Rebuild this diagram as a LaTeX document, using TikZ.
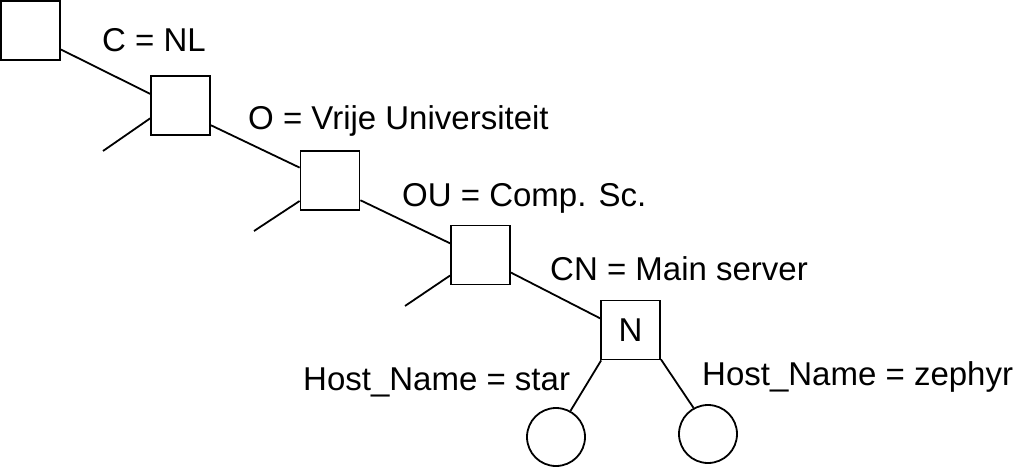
\documentclass[tikz,border=0pt]{standalone}
\usepackage{fontspec}
\setmainfont{Liberation Sans}
\begin{document}
\begin{tikzpicture}[x=1pt,y=-1pt,
  entry/.style={draw,line width=1.8pt,minimum size=59pt,inner sep=0pt,font=\fontsize{33}{40}\selectfont},
  leaf/.style={draw,line width=1.8pt,circle,minimum size=58pt,inner sep=0pt},
  lbl/.style={anchor=base west,inner sep=0pt,font=\fontsize{33}{40}\selectfont},
  conn/.style={line width=1.8pt}]
\useasboundingbox (0,0) rectangle (1014,468);
\node[entry] (b1) at (30.5,30.5) {};
\node[entry] (b2) at (180.5,105.5) {};
\node[entry] (b3) at (330,180.5) {};
\node[entry] (b4) at (480.5,255) {};
\node[entry] (bn) at (630.5,330) {N};
\node[leaf] (c1) at (556,437) {};
\node[leaf] (c2) at (708,434) {};
\coordinate (s2) at (103,151);
\coordinate (s3) at (254,231);
\coordinate (s4) at (405,306);
\draw[conn] (b1.-32) -- (b2.159);
\draw[conn] (b2.203) -- (s2);
\draw[conn] (b2.-33.5) -- (b3.157.4);
\draw[conn] (b3.214) -- (s3);
\draw[conn] (b3.-33) -- (b4.159.5);
\draw[conn] (b4.214) -- (s4);
\draw[conn] (b4.-30) -- (bn.159.5);
\draw[conn] (bn.226.5) -- (c1.61);
\draw[conn] (bn.-44.5) -- (c2.119);
\node[lbl] (l1) at (102,52) {C = NL};
\node[lbl] (l2) at (248,130) {O = Vrije Universiteit};
\node[lbl] (l3) at (402,206) {OU = Comp. Sc.};
\node[lbl] (l4) at (550,280) {CN = Main server};
\node[lbl] (l5) at (303,390) {Host\_Name = star};
\node[lbl] (l6) at (702,385) {Host\_Name = zephyr};
\end{tikzpicture}
\end{document}
